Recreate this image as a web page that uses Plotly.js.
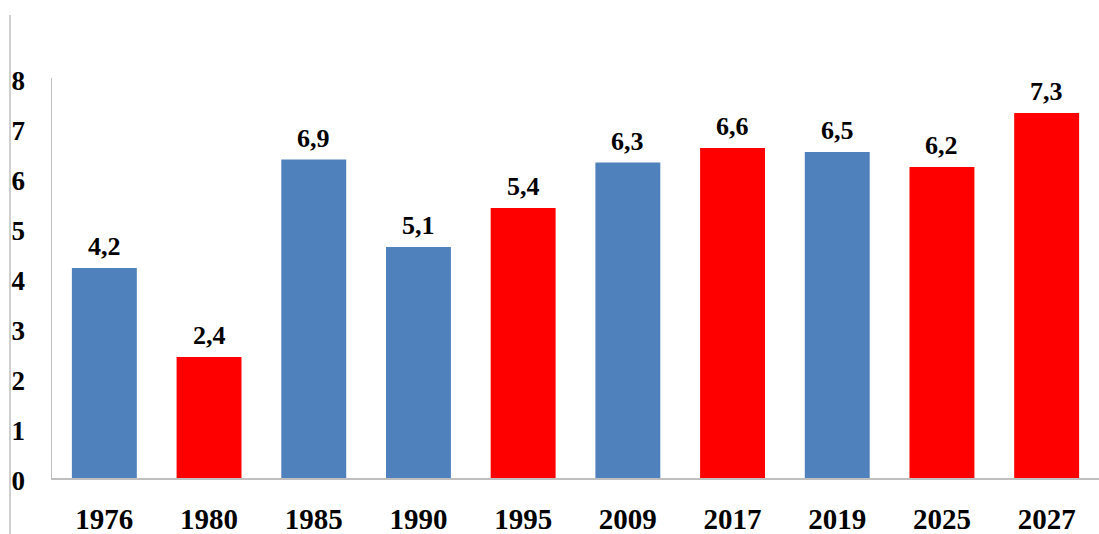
<!DOCTYPE html>
<html>
<head>
<meta charset="utf-8">
<script src="https://cdn.plot.ly/plotly-3.0.1.min.js"></script>
<style>html,body{margin:0;padding:0;background:#fff;}#chart{width:1099px;height:534px;}</style>
</head>
<body>
<div id="chart"></div>
<script>
// Data
const years = ["1976", "1980", "1985", "1990", "1995", "2009", "2017", "2019", "2025", "2027"];
const barHeights = [4.2, 2.42, 6.37, 4.62, 5.4, 6.31, 6.6, 6.52, 6.22, 7.3];
const valueLabels = ["4,2", "2,4", "6,9", "5,1", "5,4", "6,3", "6,6", "6,5", "6,2", "7,3"];
const barGroup = ["blue", "red", "blue", "blue", "red", "blue", "red", "blue", "red", "red"];
const yTickVals = [0, 1, 2, 3, 4, 5, 6, 7, 8];

const colorMap = { blue: "#4F81BD", red: "#FF0000" };
const serif = "'Liberation Serif', 'Times New Roman', serif";

const trace = {
  type: "bar",
  x: years,
  y: barHeights,
  marker: { color: barGroup.map(g => colorMap[g]), line: { width: 0 } },
  width: 0.62,
  hoverinfo: "x+y"
};

const annotations = years.map((yr, i) => ({
  x: i,
  y: barHeights[i],
  xref: "x",
  yref: "y",
  text: "<b>" + valueLabels[i] + "</b>",
  showarrow: false,
  yanchor: "bottom",
  yshift: 5,
  font: { family: serif, size: 26, color: "#000" }
}));

const layout = {
  width: 1099,
  height: 534,
  margin: { l: 52, r: 0, t: 78, b: 56 },
  paper_bgcolor: "#ffffff",
  plot_bgcolor: "#ffffff",
  showlegend: false,
  xaxis: {
    type: "category",
    range: [-0.5, years.length - 0.5],
    autorange: false,
    showgrid: false,
    zeroline: false,
    showline: true,
    linecolor: "#BFBFBF",
    linewidth: 1.5,
    ticks: "",
    ticklabelstandoff: 15,
    tickfont: { family: serif, size: 29, color: "#000", weight: "bold" },
    fixedrange: true
  },
  yaxis: {
    range: [0, 8],
    autorange: false,
    tickvals: yTickVals,
    ticktext: yTickVals.map(String),
    showgrid: false,
    zeroline: false,
    showline: true,
    linecolor: "#BFBFBF",
    linewidth: 1.5,
    ticks: "",
    ticklabelstandoff: 20,
    ticklabelshift: 3,
    tickfont: { family: serif, size: 27, color: "#000", weight: "bold" },
    fixedrange: true
  },
  annotations: annotations,
  shapes: [{
    type: "line",
    xref: "paper", yref: "paper",
    x0: -0.0401, x1: -0.0401,
    y0: 1.1575, y1: -0.15,
    line: { color: "#BFBFBF", width: 1.5 }
  }]
};

Plotly.newPlot("chart", [trace], layout, { displayModeBar: false, staticPlot: true });
</script>
</body>
</html>
